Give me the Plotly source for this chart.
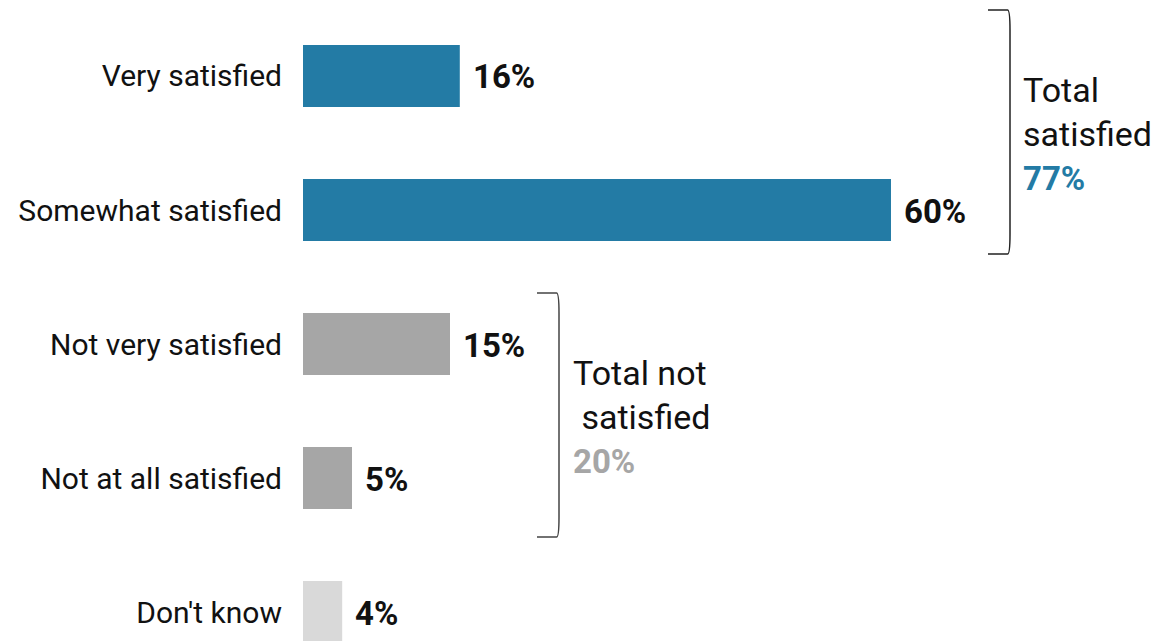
import plotly.graph_objects as go

# Survey responses, top to bottom
categories = ["Very satisfied", "Somewhat satisfied", "Not very satisfied",
              "Not at all satisfied", "Don't know"]
values = [16, 60, 15, 5, 4]
bar_colors = ["#237ba5", "#237ba5", "#a6a6a6", "#a6a6a6", "#d9d9d9"]

total_satisfied = 77
total_not_satisfied = 20

FONT = "Roboto"
W, H = 1165, 641
LEFT = 303
X_MAX = 87.96          # x-axis span (percent) across the plot area
Y_TOP, Y_BOTTOM = -0.567, 4.216  # category index range (top to bottom)

fig = go.Figure(
    go.Bar(
        x=values,
        y=list(range(len(categories))),
        orientation="h",
        marker=dict(color=bar_colors, line=dict(width=0)),
        width=0.463,
        hoverinfo="skip",
    )
)

# Value labels just past each bar end
for i, v in enumerate(values):
    fig.add_annotation(
        x=v, y=i, xref="x", yref="y",
        text=f"<b>{v}%</b>", showarrow=False,
        xanchor="left", yanchor="middle", xshift=11, yshift=-1,
        font=dict(family=FONT, size=33, color="#111111", weight=900),
    )


def px_x(p):
    return (p - LEFT) / (W - LEFT) * X_MAX


def px_y(p):
    return Y_TOP + p / H * (Y_BOTTOM - Y_TOP)


def bracket(x_right, y_top, y_bot, arm, color):
    r = 0.15
    rx = 0.25
    path = (f"M {x_right - arm},{y_top} L {x_right - rx},{y_top} "
            f"Q {x_right},{y_top} {x_right},{y_top + r} "
            f"L {x_right},{y_bot - r} "
            f"Q {x_right},{y_bot} {x_right - rx},{y_bot} "
            f"L {x_right - arm},{y_bot}")
    fig.add_shape(type="path", path=path, xref="x", yref="y",
                  line=dict(color=color, width=1.5))


bracket(px_x(1010), px_y(10), px_y(254), px_x(1010) - px_x(988), "#222222")
bracket(px_x(559), px_y(293), px_y(537), px_x(559) - px_x(537), "#444444")


def group_label(lines, x_left, mid_ys):
    for (txt, color, bold), yy in zip(lines, mid_ys):
        fig.add_annotation(
            x=px_x(x_left), y=px_y(yy), xref="x", yref="y",
            text=f"<b>{txt}</b>" if bold else txt, showarrow=False,
            xanchor="left", yanchor="middle",
            font=dict(family=FONT, size=33 if bold else 34, color=color),
        )


group_label(
    [("Total", "#111111", False), ("satisfied", "#111111", False),
     (f"{total_satisfied}%", "#237ba5", True)],
    1021, [90, 134, 178],
)
group_label(
    [("Total not", "#111111", False), ("\u00a0satisfied", "#111111", False),
     (f"{total_not_satisfied}%", "#a6a6a6", True)],
    571, [373, 417, 461],
)

fig.update_layout(
    width=W, height=H,
    margin=dict(l=LEFT, r=0, t=0, b=0),
    paper_bgcolor="white", plot_bgcolor="white",
    showlegend=False,
    xaxis=dict(range=[0, X_MAX], visible=False, fixedrange=True),
    yaxis=dict(
        range=[Y_BOTTOM, Y_TOP],
        tickmode="array",
        tickvals=list(range(len(categories))),
        ticktext=categories,
        showgrid=False, zeroline=False, showline=False, ticks="",
        ticklabelstandoff=20,
        tickfont=dict(family=FONT, size=30, color="#111111"),
        fixedrange=True,
    ),
)

fig.write_html("out.html", config={"displayModeBar": False})
